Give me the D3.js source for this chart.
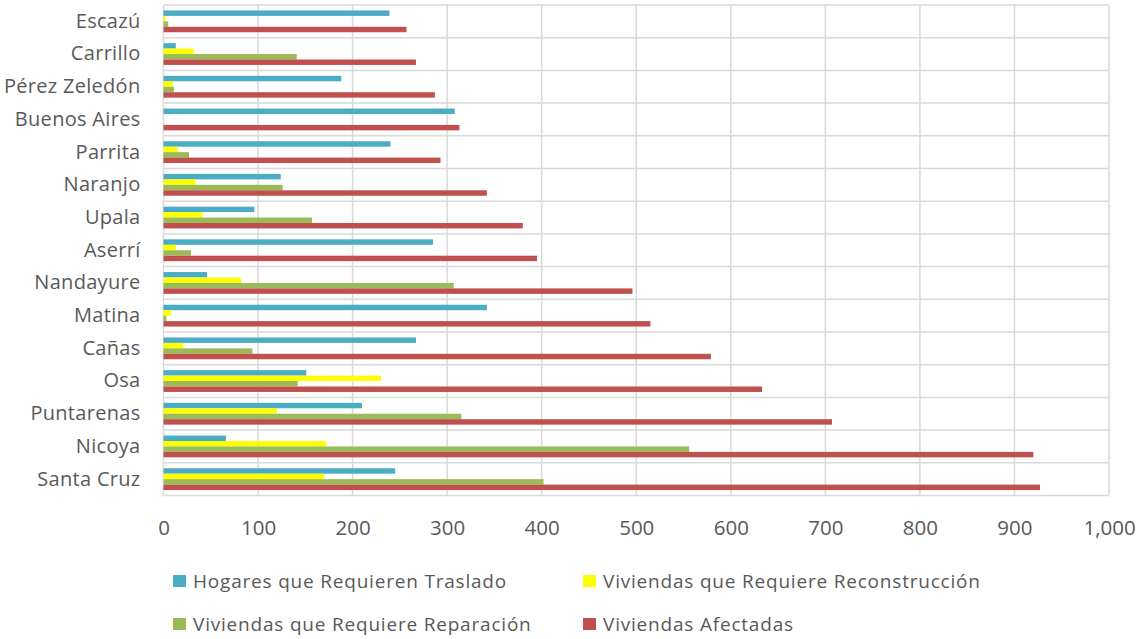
<!DOCTYPE html>
<html><head><meta charset="utf-8">
<script src="https://cdn.jsdelivr.net/npm/d3@7"></script>
<style>body{margin:0;background:#fff;} svg{display:block;}</style>
</head><body>
<svg id="c" width="1136" height="639"></svg>
<script>
const categories = ["Escazú","Carrillo","Pérez Zeledón","Buenos Aires","Parrita","Naranjo","Upala","Aserrí","Nandayure","Matina","Cañas","Osa","Puntarenas","Nicoya","Santa Cruz"];
const seriesNames = ["Hogares que Requieren Traslado","Viviendas que Requiere Reconstrucción","Viviendas que Requiere Reparación","Viviendas Afectadas"];
const traslado =       [239, 13, 188, 308, 240, 124, 96, 285, 46, 342, 267, 151, 210, 66, 245];
const reconstruccion = [2, 32, 10, 0, 15, 34, 41, 13, 82, 8, 21, 230, 120, 172, 170];
const reparacion =     [5, 141, 11, 0, 27, 126, 157, 29, 307, 3, 94, 142, 315, 556, 402];
const afectadas =      [257, 267, 287, 313, 293, 342, 380, 395, 496, 515, 579, 633, 707, 920, 927];
const colors = ["#4bacc6","#ffff00","#9bbb59","#c0504d"];
const ticks = [0,100,200,300,400,500,600,700,800,900,1000];

const seriesVals = [traslado, reconstruccion, reparacion, afectadas];
const svg = d3.select("#c");
const m = {left:163.5, right:1109, top:5, bottom:495.5};
const x = d3.scaleLinear().domain([0,1000]).range([m.left, m.right]);
const y = d3.scaleBand().domain(categories).range([m.top, m.bottom]).paddingInner(0).paddingOuter(0);
const inner = d3.scaleBand().domain(d3.range(4)).range([0, y.bandwidth()]).paddingInner(0).paddingOuter(1);

const fontF = "'Open Sans', 'Noto Sans', sans-serif";
const textC = "#595959";
const gridC = "#d9d9d9";

// vertical gridlines
svg.append("g").selectAll("line").data(ticks).join("line")
  .attr("x1", d=>x(d)).attr("x2", d=>x(d)).attr("y1", m.top).attr("y2", m.bottom)
  .attr("stroke", gridC).attr("stroke-width", 1.5);
// horizontal gridlines (category borders)
const bounds = categories.map(c=>y(c)).concat([m.bottom]);
svg.append("g").selectAll("line").data(bounds).join("line")
  .attr("x1", m.left).attr("x2", m.right).attr("y1", d=>d).attr("y2", d=>d)
  .attr("stroke", gridC).attr("stroke-width", 1.5);

// bars
const gBars = svg.append("g");
seriesVals.forEach((vals, si) => {
  gBars.append("g").selectAll("rect").data(categories).join("rect")
    .attr("x", x(0))
    .attr("y", (c) => y(c) + inner(si))
    .attr("width", (c,i) => Math.max(0, x(vals[i]) - x(0)))
    .attr("height", inner.bandwidth())
    .attr("fill", colors[si]);
});

// x axis labels
const xAxis = d3.axisBottom(x).tickValues(ticks).tickSize(0).tickPadding(0).tickFormat(d3.format(","));
const gx = svg.append("g").attr("transform", `translate(0,535)`).call(xAxis);
gx.select(".domain").remove();
gx.selectAll("text").attr("y",0).attr("dy",0).attr("fill",textC)
  .style("font-family", fontF).style("font-size","20.5px");

// y axis labels
const yAxis = d3.axisLeft(y).tickSize(0).tickPadding(0);
const gy = svg.append("g").attr("transform", `translate(${m.left-23},0)`).call(yAxis);
gy.select(".domain").remove();
gy.selectAll("text").attr("fill",textC).style("font-family", fontF)
  .style("font-size","20px").style("letter-spacing","0.3px");

// legend
const legPos = [[173,581],[583,581],[173,624],[583,624]];
const leg = svg.append("g").selectAll("g").data(seriesNames).join("g")
  .attr("transform", (d,i)=>`translate(${legPos[i][0]},${legPos[i][1]})`);
leg.append("rect").attr("x",0).attr("y",-6).attr("width",13).attr("height",12).attr("fill",(d,i)=>colors[i]);
leg.append("text").attr("x",20).attr("y",0).attr("dy","0.35em").text(d=>d)
  .attr("fill",textC).style("font-family", fontF).style("font-size","19px").style("letter-spacing","0.8px");
</script>
</body></html>
